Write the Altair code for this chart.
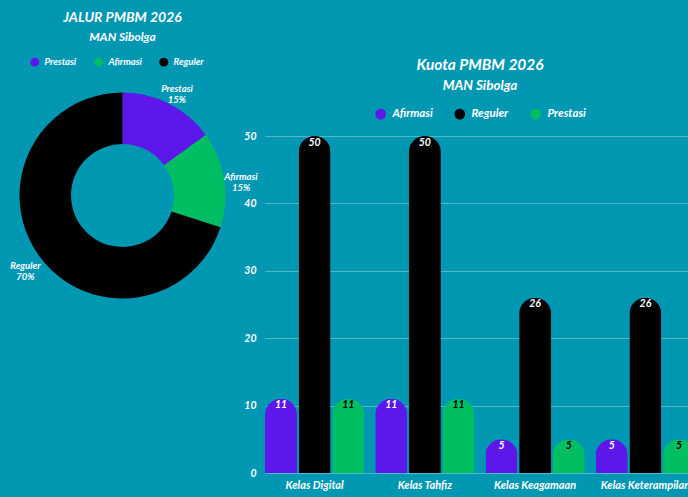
import altair as alt
import pandas as pd

# ---- data ----
categories = ["Kelas Digital", "Kelas Tahfiz", "Kelas Keagamaan", "Kelas Keterampilan"]
series = ["Afirmasi", "Reguler", "Prestasi"]
afirmasi = [11, 11, 5, 5]
reguler = [50, 50, 26, 26]
prestasi = [11, 11, 5, 5]

jalur = ["Prestasi", "Afirmasi", "Reguler"]
jalur_pct = [15, 15, 70]

title_left = "JALUR PMBM 2026"
title_right = "Kuota PMBM 2026"
subtitle = "MAN Sibolga"

# ---- style ----
BG = "#0097b2"
PURPLE = "#5e17eb"
GREEN = "#00bf63"
BLACK = "#000000"
FONT = "Lato"

# plot origin in page: (265, 136)
OX, OY = 265, 136

rows = []
for s, vals in zip(series, [afirmasi, reguler, prestasi]):
    for c, v in zip(categories, vals):
        rows.append({"kelas": c, "jalur": s, "nilai": v})
bar_df = pd.DataFrame(rows)

donut_df = pd.DataFrame({
    "jalur": jalur,
    "pct": jalur_pct,
    "idx": list(range(len(jalur))),
    "label": [f"{j}\n{p}%" for j, p in zip(jalur, jalur_pct)],
})

CX, CY = 122.5 - OX, 195.5 - OY

donut_arc = alt.Chart(donut_df).mark_arc(radius=103, radius2=51.5, stroke=None).encode(
    theta=alt.Theta("pct:Q", stack=True),
    order=alt.Order("idx:Q"),
    color=alt.Color(
        "jalur:N",
        scale=alt.Scale(domain=jalur, range=[PURPLE, GREEN, BLACK]),
        legend=alt.Legend(
            title=None, orient="none", direction="horizontal",
            legendX=30 - OX, legendY=57 - OY,
            symbolType="circle", symbolSize=80, symbolStrokeWidth=0, symbolOpacity=1,
            labelFont=FONT, labelFontSize=9.5, labelFontWeight="bold", labelFontStyle="italic",
            labelColor="white", labelOffset=5, columnPadding=17,
        ),
    ),
    x=alt.value(CX),
    y=alt.value(CY),
)

donut_text = alt.Chart(donut_df).mark_text(
    radius=120, lineBreak="\n", font=FONT, fontSize=9.5, fontWeight="bold",
    fontStyle="italic", color="white", lineHeight=11,
).encode(
    theta=alt.Theta("pct:Q", stack=True),
    order=alt.Order("idx:Q"),
    text="label:N",
    x=alt.value(CX),
    y=alt.value(CY),
)

bars = alt.Chart(bar_df).mark_bar(cornerRadiusTopLeft=16, cornerRadiusTopRight=16).encode(
    x=alt.X(
        "kelas:N", sort=categories,
        scale=alt.Scale(range=[0, 430], paddingInner=0.1, paddingOuter=0),
        axis=alt.Axis(
            title=None, labelAngle=0, ticks=False, domain=False, grid=False,
            labelFont=FONT, labelFontSize=11, labelFontWeight="bold", labelFontStyle="italic",
            labelColor="white", labelPadding=6,
        ),
    ),
    xOffset=alt.XOffset("jalur:N", sort=series, scale=alt.Scale(domain=series, paddingInner=0.05)),
    y=alt.Y(
        "nilai:Q", scale=alt.Scale(domain=[0, 50]),
        axis=alt.Axis(
            title=None, values=[0, 10, 20, 30, 40, 50], ticks=False, domain=False,
            gridColor="#4fb8cb", gridWidth=1,
            labelFont=FONT, labelFontSize=10.5, labelFontWeight="bold", labelFontStyle="italic",
            labelColor="white", labelPadding=9,
        ),
    ),
    color=alt.Color(
        "jalur:N",
        scale=alt.Scale(domain=series, range=[PURPLE, BLACK, GREEN]),
        legend=alt.Legend(
            title=None, orient="none", direction="horizontal",
            legendX=375 - OX, legendY=108 - OY,
            symbolType="circle", symbolSize=115, symbolStrokeWidth=0, symbolOpacity=1,
            labelFont=FONT, labelFontSize=11.5, labelFontWeight="bold", labelFontStyle="italic",
            labelColor="white", labelOffset=6, columnPadding=21,
        ),
    ),
)

bar_text = alt.Chart(bar_df).mark_text(
    baseline="middle", dy=6.5, font=FONT, fontSize=10.5, fontWeight="bold", fontStyle="italic",
).encode(
    x=alt.X("kelas:N", sort=categories),
    xOffset=alt.XOffset("jalur:N", sort=series),
    y=alt.Y("nilai:Q"),
    text=alt.Text("nilai:Q"),
    color=alt.condition(alt.datum.jalur == "Prestasi", alt.value("black"), alt.value("white")),
)

one = pd.DataFrame({"k": [0]})

def label(txt, x, y, size):
    return alt.Chart(one).mark_text(
        text=txt, font=FONT, fontSize=size, fontWeight="bold", fontStyle="italic",
        color="white", align="center", baseline="middle",
    ).encode(x=alt.value(x - OX), y=alt.value(y - OY))

t1 = label(title_left, 122.5, 18, 14)
s1 = label(subtitle, 122.5, 37, 12)
t2 = label(title_right, 480, 65, 15.5)
s2 = label(subtitle, 480, 86, 13.5)

chart = alt.layer(donut_arc, donut_text, bars, bar_text, t1, s1, t2, s2).resolve_scale(
    color="independent"
).properties(
    width=423,
    height=337,
    autosize=alt.AutoSizeParams(type="none"),
    padding={"left": OX, "top": OY, "right": 0, "bottom": 24},
    background=BG,
).configure_view(stroke=None)

chart.save("out.html", embed_options={"renderer": "svg", "actions": False})
